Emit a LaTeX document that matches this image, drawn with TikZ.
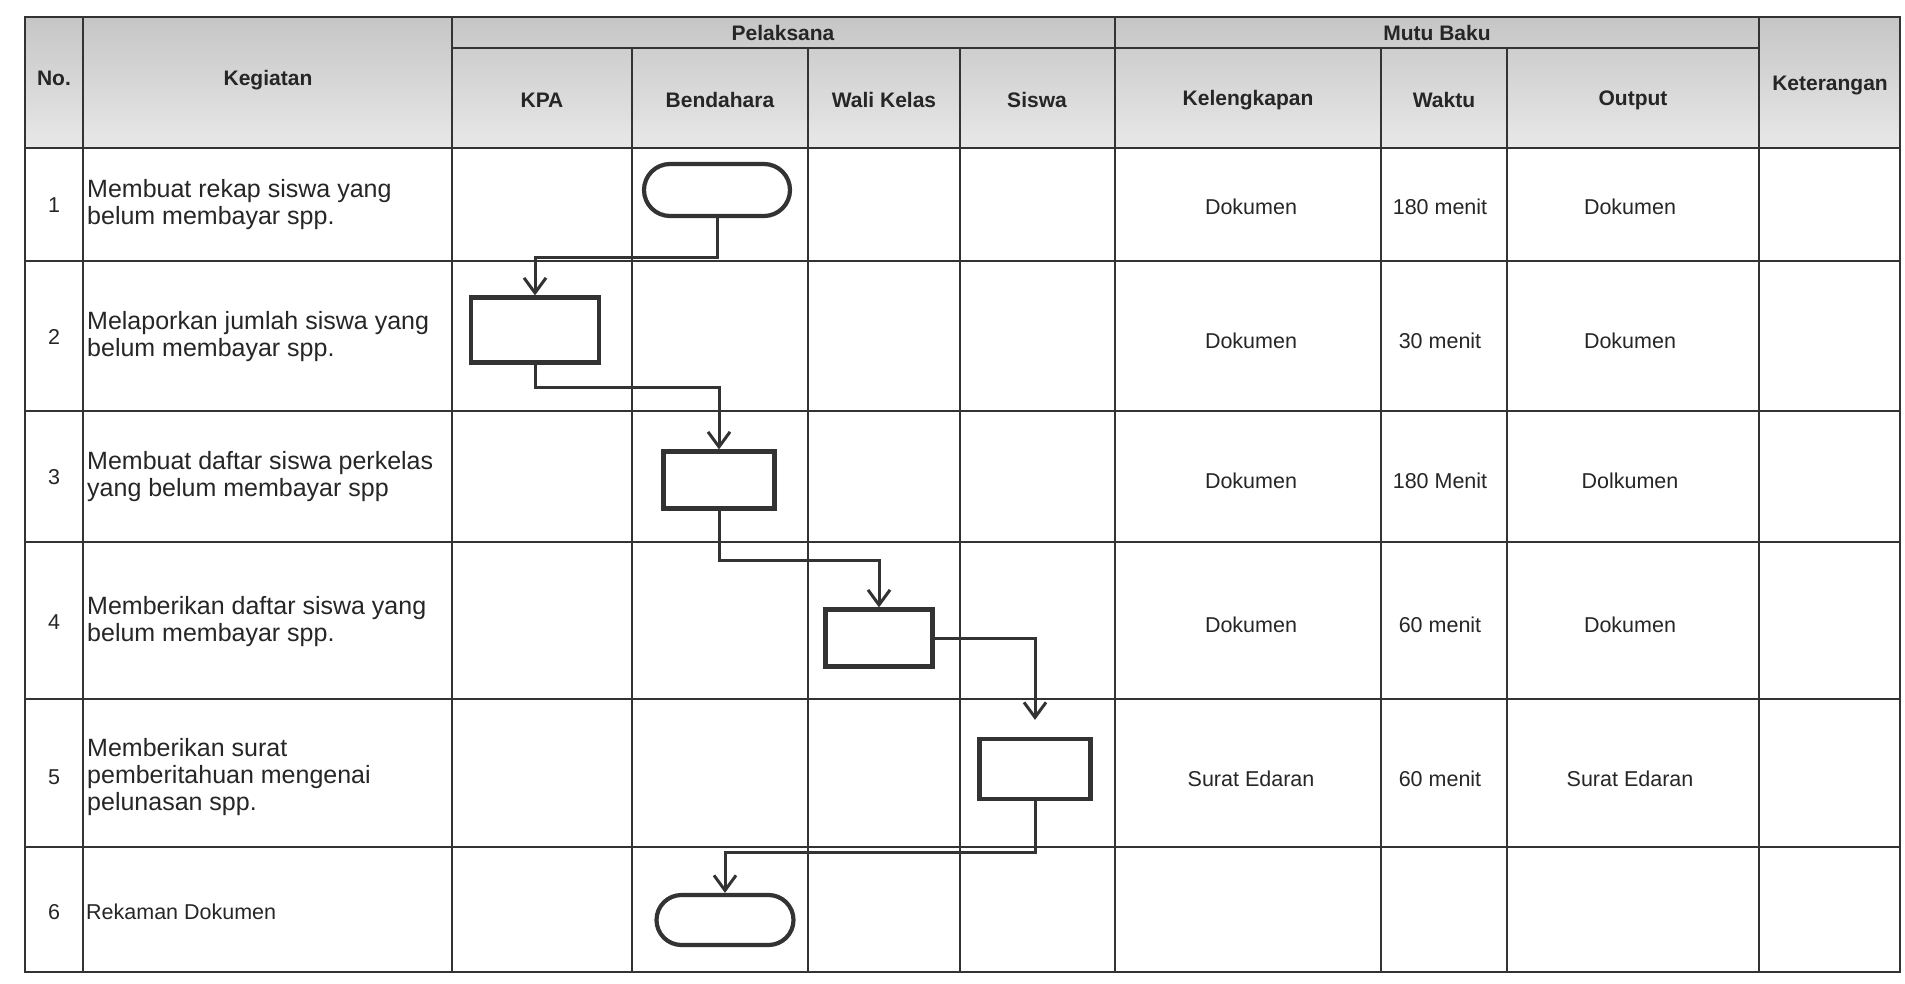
\documentclass[tikz,border=0pt]{standalone}
\usepackage{fontspec}
\setmainfont{Liberation Sans}
\usetikzlibrary{shapes,arrows.meta,positioning}

\begin{document}
\begin{tikzpicture}[x = 1pt, y = -1pt,
	garis/.style = {line width = 2.3pt, color = black!80},
	kotak/.style = {draw, line width = 4.2pt, color = black!80, inner sep = 0pt,
		minimum width = 111pt, minimum height = 57pt},
	ujung/.style = {kotak, rounded rectangle, minimum width = 146pt, minimum height = 52pt},
	alur/.style = {line width = 3pt, color = black!80,
		-{Straight Barb[length = 15pt, width = 22pt]}},
	judul/.style = {font = \fontsize{21}{25}\selectfont\bfseries, text = black!85},
	isi/.style = {font = \fontsize{21.5}{26}\selectfont, text = black!85},
	kegiatan/.style = {font = \fontsize{25}{27}\selectfont, text = black!85,
		align = left, anchor = west, inner sep = 0pt}]
\useasboundingbox (0,0) rectangle (1905,984);
\fill [white] (0,0) rectangle (1905,984);
\shade [top color = gray!45, bottom color = gray!18] (25,17) rectangle (1900,148);

\foreach \y in {148,261,411,542,699,847}
\draw [garis] (25,\y) -- (1900,\y);
\draw [garis] (452,48) -- (1759,48);
\foreach \x in {83,452,1115,1759}
\draw [garis] (\x,17) -- (\x,972);
\foreach \x in {632,808,960,1381,1507}
\draw [garis] (\x,48) -- (\x,972);
\draw [garis] (25,17) rectangle (1900,972);

\node [judul] (hno) at (54,78) {No.};
\node [judul] (hkeg) at (268,80) {Kegiatan};
\node [judul] (hpel) at (783,33) {Pelaksana};
\node [judul] (hmutu) at (1437,33) {Mutu Baku};
\node [judul] (hket) at (1830,86) {Keterangan};
\foreach \x/\t [count = \i] in {542/KPA, 720/Bendahara, 884/Wali Kelas, 1037/Siswa,
		1248/Kelengkapan, 1444/Waktu, 1633/Output}
\node [judul] (h\i) at (\x,100) {\t};

\foreach \n/\y/\t in {1/205/{Membuat rekap siswa yang\\belum membayar spp.},
		2/337/{Melaporkan jumlah siswa yang\\belum membayar spp.},
		3/477/{Membuat daftar siswa perkelas\\yang belum membayar spp},
		4/622/{Memberikan daftar siswa yang\\belum membayar spp.},
		5/777/{Memberikan surat\\pemberitahuan mengenai\\pelunasan spp.}}
{
\node [isi] (no\n) at (54,\y) {\n};
\node [kegiatan] (keg\n) at (87,\y) {\t};
}
\node [isi] (no6) at (54,912) {6};
\node [kegiatan, font = \fontsize{21.5}{26}\selectfont] (keg6) at (86,912) {Rekaman Dokumen};

\foreach \n/\y/\k/\w/\o in {1/207/Dokumen/180 menit/Dokumen,
		2/341/Dokumen/30 menit/Dokumen,
		3/481/Dokumen/180 Menit/Dolkumen,
		4/625/Dokumen/60 menit/Dokumen,
		5/779/Surat Edaran/60 menit/Surat Edaran}
{
\node [isi] (kel\n) at (1251,\y) {\k};
\node [isi] (wkt\n) at (1440,\y) {\w};
\node [isi] (out\n) at (1630,\y) {\o};
}

\node [ujung] (mulai) at (717,190) {};
\node [kotak, minimum width = 128pt, minimum height = 65pt] (lapor) at (535,330) {};
\node [kotak] (daftar) at (719,480) {};
\node [kotak, minimum width = 107pt] (beri) at (879,638) {};
\node [kotak, minimum height = 60pt] (surat) at (1035,769) {};
\node [ujung, minimum width = 137pt, minimum height = 50pt] (rekam) at (725,920) {};

\draw [alur] (mulai.south) -- ++(0,39) -| (lapor.north);
\draw [alur] (lapor.south) -- ++(0,23) -| (daftar.north);
\draw [alur] (daftar.south) -- ++(0,50) -| (beri.north);
\draw [alur, shorten > = 17pt] (beri.east) -| (surat.north);
\draw [alur] (surat.south) -- ++(0,51) -| (rekam.north);
\end{tikzpicture}
\end{document}
